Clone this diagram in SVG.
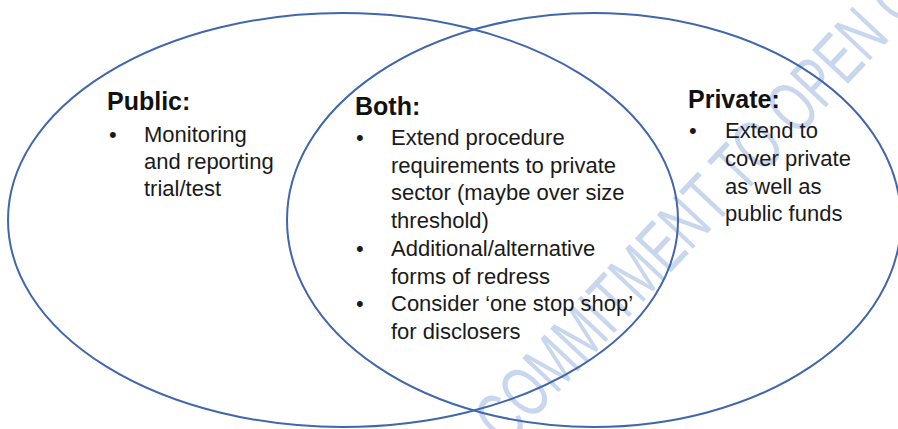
<svg xmlns="http://www.w3.org/2000/svg" width="898" height="429" viewBox="0 0 898 429">
  <style>
    .ring { fill: none; stroke: #4166ad; stroke-width: 2; }
    .head { font-family: "Liberation Sans", Arial, sans-serif; font-weight: bold; font-size: 25px; fill: #111; }
    .body { font-family: "Liberation Sans", Arial, sans-serif; font-size: 22px; fill: #1a1a1a; }
    .mark { font-family: "Liberation Sans", Arial, sans-serif; font-size: 72px; fill: #c9d7ee; }
  </style>
  <rect width="898" height="429" fill="#ffffff"/>

  <!-- watermark behind everything -->
  <g id="watermark">
    <text class="mark" transform="translate(506,448) rotate(-46.8)" x="0" y="0" textLength="614" lengthAdjust="spacingAndGlyphs">COMMITMENT TO OPEN G</text>
  </g>

  <!-- the two overlapping sets -->
  <g id="connectors">
    <ellipse id="set-public" class="ring" cx="343" cy="220" rx="335" ry="207"/>
    <ellipse id="set-private" class="ring" cx="594" cy="220" rx="307" ry="207"/>
  </g>

  <g id="public">
    <text class="head" x="107" y="110">Public:</text>
    <text class="body" x="109" y="142">•</text>
    <text class="body" x="144" y="142">Monitoring</text>
    <text class="body" x="144" y="169">and reporting</text>
    <text class="body" x="144" y="196">trial/test</text>
  </g>

  <g id="both">
    <text class="head" x="355" y="115">Both:</text>
    <text class="body" x="356" y="145">•</text>
    <text class="body" x="391" y="145">Extend procedure</text>
    <text class="body" x="391" y="172.7">requirements to private</text>
    <text class="body" x="391" y="200.4">sector (maybe over size</text>
    <text class="body" x="391" y="228.1">threshold)</text>
    <text class="body" x="356" y="255.8">•</text>
    <text class="body" x="391" y="255.8">Additional/alternative</text>
    <text class="body" x="391" y="283.5">forms of redress</text>
    <text class="body" x="356" y="311.2">•</text>
    <text class="body" x="391" y="311.2">Consider ‘one stop shop’</text>
    <text class="body" x="391" y="338.9">for disclosers</text>
  </g>

  <g id="private">
    <text class="head" x="688" y="108">Private:</text>
    <text class="body" x="689" y="138">•</text>
    <text class="body" x="725" y="138">Extend to</text>
    <text class="body" x="725" y="166">cover private</text>
    <text class="body" x="725" y="193.5">as well as</text>
    <text class="body" x="725" y="221">public funds</text>
  </g>
</svg>
